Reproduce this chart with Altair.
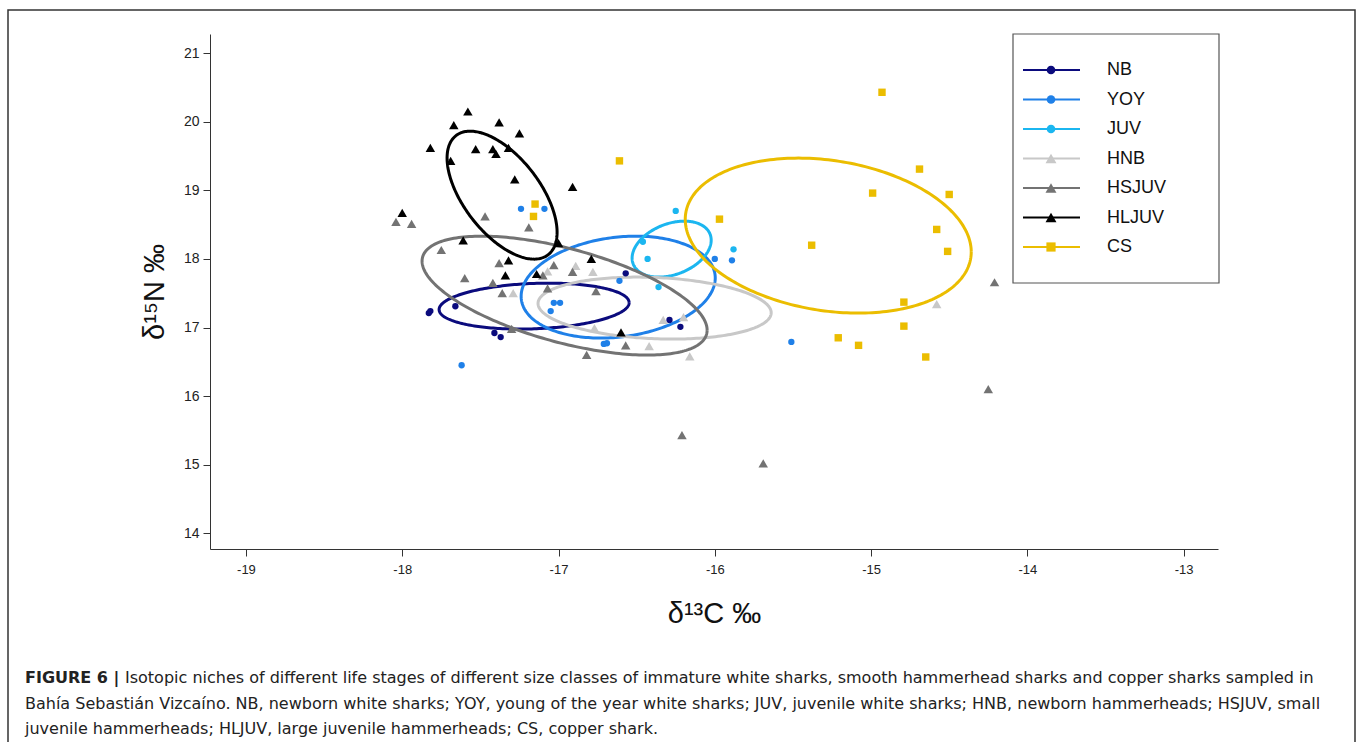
import altair as alt
import numpy as np
import pandas as pd

# ---------------- data ----------------
groups = ["NB", "YOY", "JUV", "HNB", "HSJUV", "HLJUV", "CS"]
colors = ["#0b0b7d", "#1f80e8", "#1bb6f0", "#c8c8c8", "#737373", "#000000", "#ebbd00"]
shapes = ["circle", "circle", "circle", "triangle-up", "triangle-up", "triangle-up", "square"]

nb_c = [-17.83, -17.82, -17.66, -17.41, -17.37, -16.57, -16.29, -16.22]
nb_n = [17.21, 17.24, 17.31, 16.92, 16.86, 17.79, 17.11, 17.01]

yoy_c = [-17.24, -17.09, -17.03, -16.99, -17.05, -16.71, -16.69, -16.61, -16.00, -15.89, -15.51, -17.62]
yoy_n = [18.73, 18.73, 17.36, 17.36, 17.24, 16.76, 16.77, 17.68, 18.00, 17.98, 16.79, 16.45]

juv_c = [-16.25, -16.46, -16.43, -16.36, -15.88]
juv_n = [18.70, 18.25, 18.00, 17.59, 18.14]

hnb_c = [-17.29, -17.07, -16.89, -16.78, -16.42, -16.33, -16.20, -16.16, -16.77, -14.58]
hnb_n = [17.50, 17.82, 17.90, 17.81, 16.73, 17.11, 17.15, 16.58, 16.99, 17.34]

hsjuv_c = [-18.04, -17.94, -17.47, -17.19, -17.75, -17.38, -17.60, -17.03, -16.91, -17.42,
           -17.36, -17.07, -16.76, -17.30, -16.82, -16.57, -14.21, -14.25, -16.21, -15.69, -17.10]
hsjuv_n = [18.54, 18.51, 18.62, 18.46, 18.13, 17.94, 17.72, 17.91, 17.81, 17.65,
           17.50, 17.57, 17.53, 16.98, 16.60, 16.74, 17.66, 16.10, 15.43, 15.02, 17.76]

hljuv_c = [-17.58, -17.67, -17.38, -17.25, -17.82, -17.53, -17.42, -17.40, -17.32, -17.69,
           -17.28, -16.91, -18.00, -17.32, -17.34, -17.14, -17.00, -16.79, -17.61, -16.60]
hljuv_n = [20.15, 19.95, 19.99, 19.83, 19.62, 19.60, 19.60, 19.53, 19.62, 19.43,
           19.16, 19.05, 18.67, 17.98, 17.76, 17.78, 18.23, 18.00, 18.27, 16.93]

cs_c = [-17.15, -17.16, -16.61, -15.97, -15.38, -14.93, -14.69, -14.99, -14.50, -14.58,
        -14.51, -14.79, -14.79, -15.21, -15.08, -14.65]
cs_n = [18.80, 18.62, 19.43, 18.58, 18.20, 20.43, 19.31, 18.96, 18.94, 18.43,
        18.11, 17.37, 17.02, 16.85, 16.74, 16.57]

# standard ellipse parameters: centre, half x-extent, half y-extent, correlation
ell_cx = [-17.156, -16.618, -16.276, -16.385, -16.961, -17.361, -15.274]
ell_cy = [17.312, 17.589, 18.143, 17.283, 17.465, 18.930, 18.340]
ell_rx = [0.608, 0.621, 0.253, 0.746, 0.912, 0.352, 0.915]
ell_ry = [0.335, 0.743, 0.408, 0.452, 0.867, 0.933, 1.130]
ell_rho = [0.15, 0.18, 0.32, -0.15, -0.58, -0.58, -0.21]

x_ticks = [-19, -18, -17, -16, -15, -14, -13]
y_ticks = [14, 15, 16, 17, 18, 19, 20, 21]
x_domain = [-19.23, -12.78]
y_domain = [13.77, 21.28]

caption_bold = "FIGURE 6 |"
caption_1 = ("Isotopic niches of different life stages of different size classes of immature white sharks, "
             "smooth hammerhead sharks and copper sharks sampled in")
caption_2 = ("Bahía Sebastián Vizcaíno. NB, newborn white sharks; YOY, young of the year white sharks; "
             "JUV, juvenile white sharks; HNB, newborn hammerheads; HSJUV, small")
caption_3 = "juvenile hammerheads; HLJUV, large juvenile hammerheads; CS, copper shark."

# ---------------- tables ----------------
series = {
    "NB": (nb_c, nb_n), "YOY": (yoy_c, yoy_n), "JUV": (juv_c, juv_n),
    "HNB": (hnb_c, hnb_n), "HSJUV": (hsjuv_c, hsjuv_n), "HLJUV": (hljuv_c, hljuv_n),
    "CS": (cs_c, cs_n),
}
shape_of = dict(zip(groups, shapes))
rows = []
for g, (xs, ys) in series.items():
    for a, b in zip(xs, ys):
        rows.append({"group": g, "shape": shape_of[g], "c13": a, "n15": b})
pts = pd.DataFrame(rows)

t = np.linspace(0, 2 * np.pi, 241)
erows = []
for i, g in enumerate(groups):
    ex = ell_cx[i] + ell_rx[i] * np.cos(t)
    ey = ell_cy[i] + ell_ry[i] * (ell_rho[i] * np.cos(t) + np.sqrt(1 - ell_rho[i] ** 2) * np.sin(t))
    for k in range(len(t)):
        erows.append({"group": g, "k": k, "c13": ex[k], "n15": ey[k]})
ell = pd.DataFrame(erows)

FONT = "Liberation Sans"
CAPFONT = "DejaVu Sans"
color_scale = alt.Scale(domain=groups, range=colors)
shape_scale = alt.Scale(domain=groups, range=shapes)
point_size = {"circle": 40, "triangle-up": 90, "square": 55}
legend_size = {"circle": 75, "triangle-up": 120, "square": 85}

xs_scale = alt.Scale(domain=x_domain, nice=False, zero=False)
ys_scale = alt.Scale(domain=y_domain, nice=False, zero=False)

x_axis = alt.Axis(values=x_ticks, labelExpr="datum.value + ''", grid=False, title="δ¹³C ‰",
                  titleFontSize=29, titleFont=FONT, titleFontWeight="normal", titleColor="#111",
                  titleBaseline="alphabetic", titleY=73,
                  labelFont=FONT, labelFontSize=13, labelColor="#222", labelPadding=7,
                  tickSize=7, tickColor="#333", domainColor="#333")
y_axis = alt.Axis(values=y_ticks, labelExpr="datum.value + ''", grid=False, title="δ¹⁵N ‰",
                  titleFontSize=29, titleFont=FONT, titleFontWeight="normal", titleColor="#111",
                  titleBaseline="alphabetic", titleX=-47,
                  labelFont=FONT, labelFontSize=14, labelColor="#222", labelPadding=4,
                  tickSize=7, tickColor="#333", domainColor="#333")

ellipses = alt.Chart(ell).mark_line(strokeWidth=3).encode(
    x=alt.X("c13:Q", scale=xs_scale, axis=x_axis),
    y=alt.Y("n15:Q", scale=ys_scale, axis=y_axis),
    color=alt.Color("group:N", scale=color_scale, legend=None),
    detail="group:N",
    order="k:Q",
)

point_layers = []
for shp, sz in point_size.items():
    point_layers.append(
        alt.Chart(pts[pts["shape"] == shp]).mark_point(filled=True, opacity=1, size=sz).encode(
            x=alt.X("c13:Q", scale=xs_scale),
            y=alt.Y("n15:Q", scale=ys_scale),
            color=alt.Color("group:N", scale=color_scale, legend=None),
            shape=alt.Shape("group:N", scale=shape_scale, legend=None),
        )
    )

one = pd.DataFrame({"a": [0]})
frame = alt.Chart(one).mark_rect(fillOpacity=0, stroke="#333", strokeWidth=1.5).encode(
    x=alt.value(8 - 210), x2=alt.value(1355 - 210), y=alt.value(10 - 34), y2=alt.value(780 - 34)
)

cap_common = dict(align="left", baseline="alphabetic", font=CAPFONT, fontSize=16, color="#222")
cap_b = alt.Chart(one).mark_text(fontWeight="bold", **cap_common).encode(
    x=alt.value(25 - 210), y=alt.value(683 - 34), text=alt.value(caption_bold))
cap_1 = alt.Chart(one).mark_text(**cap_common).encode(
    x=alt.value(125 - 210), y=alt.value(683 - 34), text=alt.value(caption_1))
cap_2 = alt.Chart(one).mark_text(**cap_common).encode(
    x=alt.value(25 - 210), y=alt.value(709 - 34), text=alt.value(caption_2))
cap_3 = alt.Chart(one).mark_text(**cap_common).encode(
    x=alt.value(25 - 210), y=alt.value(734 - 34), text=alt.value(caption_3))

main = alt.layer(frame, ellipses, *point_layers, cap_b, cap_1, cap_2, cap_3)

# ---------------- legend ----------------
leg = pd.DataFrame({"group": groups, "shape": shapes})
leg_y = alt.Y("group:N", scale=alt.Scale(type="point", domain=groups, range=[36, 213], padding=0),
              axis=None)
leg_box = alt.Chart(one).mark_rect(fillOpacity=0, stroke="#555", strokeWidth=1.2).encode(
    x=alt.value(803), x2=alt.value(1009), y=alt.value(0), y2=alt.value(249))
leg_rule = alt.Chart(leg).mark_rule(strokeWidth=2).encode(
    x=alt.value(813), x2=alt.value(870), y=leg_y,
    color=alt.Color("group:N", scale=color_scale, legend=None))
leg_pts = []
for shp, sz in legend_size.items():
    leg_pts.append(
        alt.Chart(leg[leg["shape"] == shp]).mark_point(filled=True, opacity=1, size=sz).encode(
            x=alt.value(841), y=leg_y,
            color=alt.Color("group:N", scale=color_scale, legend=None),
            shape=alt.Shape("group:N", scale=shape_scale, legend=None))
    )
leg_txt = alt.Chart(leg).mark_text(align="left", baseline="middle", font=FONT, fontSize=18,
                                   color="#111").encode(
    x=alt.value(897), y=leg_y, text="group:N")
legend = alt.layer(leg_box, leg_rule, *leg_pts, leg_txt)

chart = alt.layer(main, legend).resolve_scale(y="independent").properties(
    width=1008, height=515,
    padding={"left": 210, "top": 34, "right": 142, "bottom": 193},
    autosize=alt.AutoSizeParams(type="none"),
    background="white",
).configure_view(stroke=None)

chart.save("out.html", embed_options={"renderer": "svg", "actions": False})
